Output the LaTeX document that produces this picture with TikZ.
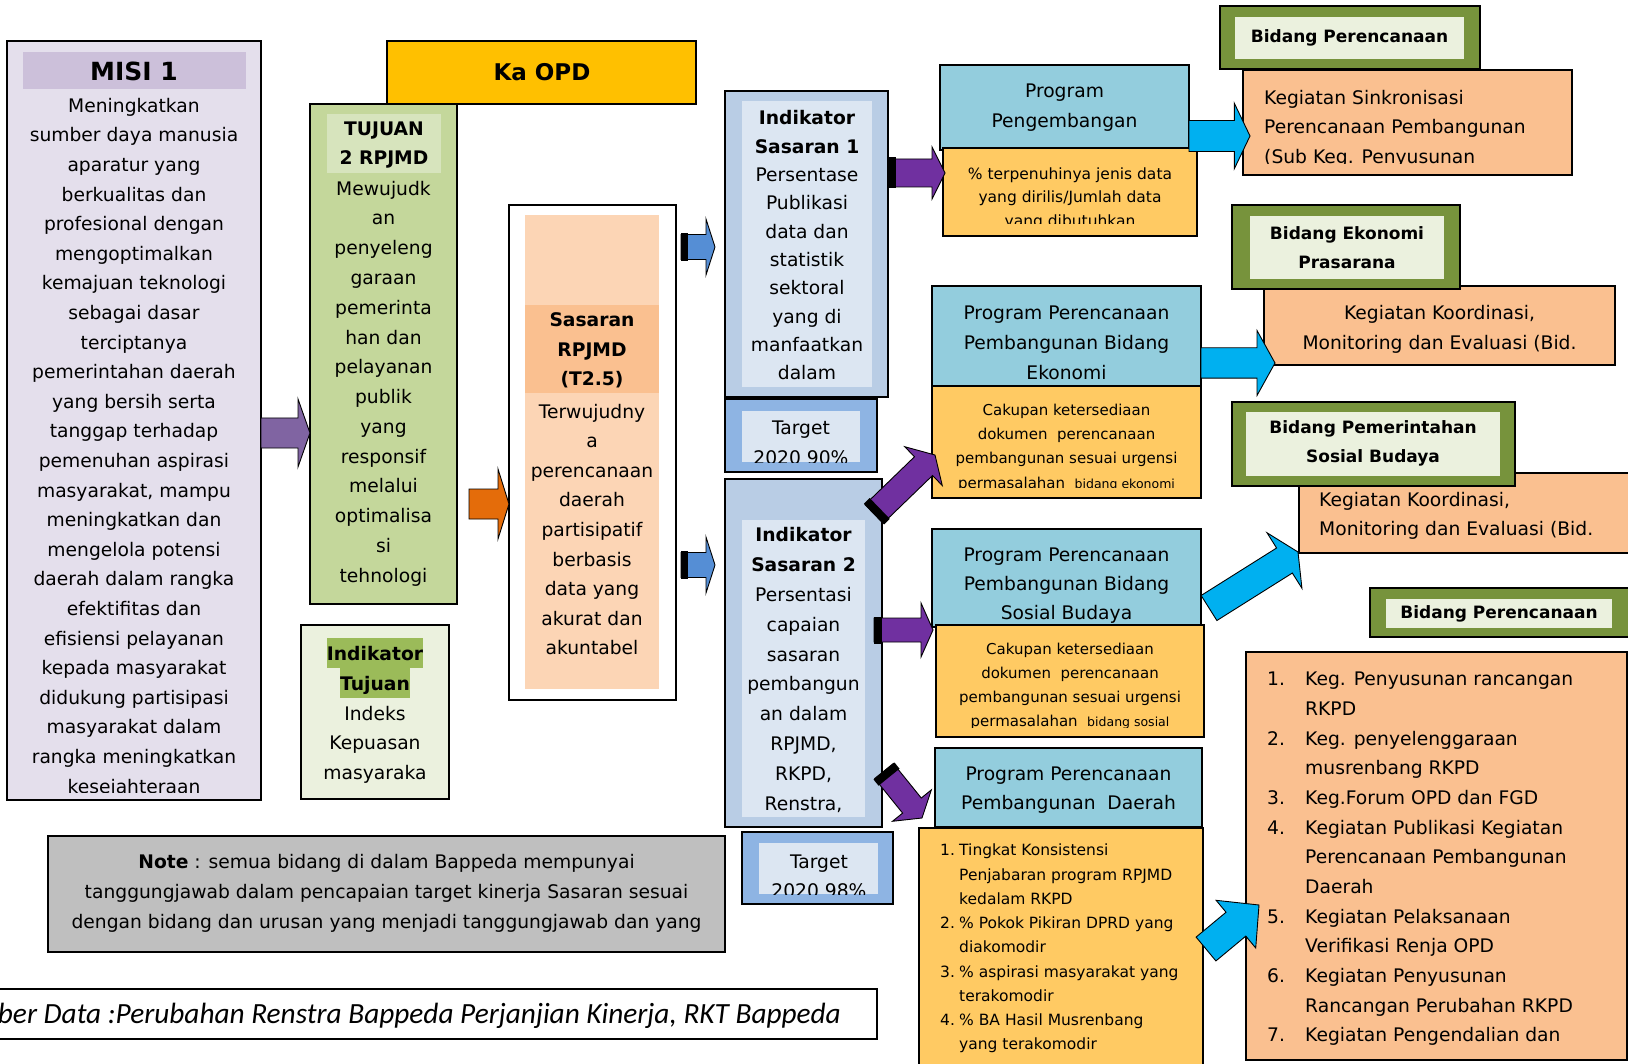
\documentclass[tikz,border=0pt]{standalone}
\usepackage{fontspec}
\setmainfont{DejaVu Sans}
\newfontfamily\sumberfont{Carlito}
\usetikzlibrary{calc}
\definecolor{misibg}{RGB}{228,223,236}
\definecolor{misihd}{RGB}{204,192,218}
\definecolor{kaopd}{RGB}{255,192,0}
\definecolor{tujuanbg}{RGB}{196,215,155}
\definecolor{tujuanhd}{RGB}{215,228,189}
\definecolor{palegreen}{RGB}{235,241,222}
\definecolor{hlgreen}{RGB}{155,187,89}
\definecolor{peach}{RGB}{252,213,181}
\definecolor{salmon}{RGB}{250,192,144}
\definecolor{steel}{RGB}{185,205,229}
\definecolor{paleblue}{RGB}{220,230,242}
\definecolor{midblue}{RGB}{142,180,227}
\definecolor{aqua}{RGB}{147,205,221}
\definecolor{gold}{RGB}{255,202,99}
\definecolor{olive}{RGB}{119,147,60}
\definecolor{notegray}{RGB}{191,191,191}
\definecolor{misiarrow}{RGB}{128,100,162}
\definecolor{orangearrow}{RGB}{228,108,10}
\definecolor{bluearrow}{RGB}{85,142,213}
\definecolor{violetarrow}{RGB}{112,48,160}
\definecolor{cyanarrow}{RGB}{0,176,240}

\tikzset{ba shaft/.store in=\bashaft, ba head/.store in=\bahead,
  ba neck/.store in=\baneck, ba band/.store in=\baband,
  ba shaft=15pt, ba head=32pt, ba neck=16pt, ba band=0pt}

% block arrow from #2 (tail centre) to #3 (tip)
\newcommand{\blockarrow}[3][]{%
  \begin{scope}[draw=black, line width=0.9pt, #1]
    \coordinate (neck) at ($(#3)!\baneck!(#2)$);
    \filldraw ($(#2)!\bashaft!90:(#3)$) -- ($(neck)!\bashaft!-90:(#2)$)
      -- ($(neck)!\bahead!-90:(#2)$) -- (#3) -- ($(neck)!\bahead!90:(#2)$)
      -- ($(neck)!\bashaft!90:(#2)$) -- ($(#2)!\bashaft!-90:(#3)$) -- cycle;
    \ifdim\baband>0pt
      \coordinate (band) at ($(#2)!\baband!(#3)$);
      \fill[black] ($(#2)!\bashaft+1.5pt!90:(#3)$) -- ($(band)!\bashaft+1.5pt!-90:(#2)$)
        -- ($(band)!\bashaft+1.5pt!90:(#2)$) -- ($(#2)!\bashaft+1.5pt!-90:(#3)$) -- cycle;
    \fi
  \end{scope}}

% box from (x1,y1) to (x2,y2)
\newcommand{\panel}[6][]{%
  \node[panel,#1,minimum width={(#5)-(#3)},minimum height={(#6)-(#4)}] (#2)
    at ({((#3)+(#5))/2},{((#4)+(#6))/2}) {};}

\newcommand{\hlg}[1]{{\setlength{\fboxsep}{0pt}\colorbox{hlgreen}{\rule[-7.2pt]{0pt}{29.4pt}#1}}}

\begin{document}
\begin{tikzpicture}[x=1pt,y=-1pt,
  panel/.style={draw=black,line width=1.6pt,inner sep=0pt,outer sep=0pt},
  inlay/.style={draw=none},
  bidang/.style={fill=olive,line width=1.2pt},
  txt/.style={align=center,inner sep=0pt,font=\fontsize{18.7}{29.6}\selectfont},
  smalltxt/.style={align=center,inner sep=0pt,font=\fontsize{15.5}{24.2}\selectfont},
  headtxt/.style={align=center,inner sep=0pt,font=\bfseries\fontsize{17}{29.5}\selectfont}]
\useasboundingbox (0,0) rectangle (1628,1064);
\clip (0,0) rectangle (1628,1064);

% misi
\panel[fill=misibg]{misi}{7}{41}{261}{800}
\panel[inlay,fill=misihd]{misihead}{23}{52}{246}{89}
\node[txt,font=\bfseries\fontsize{25}{30}\selectfont] (misi-title) at (134,71) {MISI 1};
\begin{scope}
  \clip ($(misi.north west)+(2,2)$) rectangle ($(misi.south east)+(-2,-8)$);
  \node[txt] (misi-text) at (134,447.5) {Meningkatkan\\sumber daya manusia\\aparatur yang\\berkualitas dan\\profesional dengan\\mengoptimalkan\\kemajuan teknologi\\sebagai dasar\\terciptanya\\pemerintahan daerah\\yang bersih serta\\tanggap terhadap\\pemenuhan aspirasi\\masyarakat, mampu\\meningkatkan dan\\mengelola potensi\\daerah dalam rangka\\efektifitas dan\\efisiensi pelayanan\\kepada masyarakat\\didukung partisipasi\\masyarakat dalam\\rangka meningkatkan\\kesejahteraan};
\end{scope}

% ka opd and tujuan
\panel[fill=kaopd]{kaopd}{387}{41}{696}{104}
\node[txt,font=\bfseries\fontsize{23}{28}\selectfont] (kaopd-text) at (542,72) {Ka OPD};
\panel[fill=tujuanbg]{tujuan}{310}{104}{457}{604}
\panel[inlay,fill=tujuanhd]{tujuanhead}{327}{114}{441}{173}
\node[txt] (tujuan-head) at (384,145) {\textbf{TUJUAN}\\\textbf{2 RPJMD}};
\node[txt,font=\fontsize{18.7}{29.77}\selectfont] (tujuan-text) at (383.5,383.5) {Mewujudk\\an\\penyeleng\\garaan\\pemerinta\\han dan\\pelayanan\\publik\\yang\\responsif\\melalui\\optimalisa\\si\\tehnologi};
\panel[fill=palegreen]{indtujuan}{301}{625}{449}{799}
\node[txt,font=\fontsize{18.7}{29.75}\selectfont] (indtujuan-text) at (375,711) {\hlg{\textbf{Indikator}}\\\hlg{\textbf{Tujuan}}\\Indeks\\Kepuasan\\masyaraka};

% sasaran
\panel[fill=white]{sasaran}{509}{205}{676}{700}
\panel[inlay,fill=peach]{sasaranin}{525}{215}{659}{689}
\panel[inlay,fill=salmon]{sasaranhead}{525}{305}{659}{393}
\node[txt,font=\bfseries\fontsize{18.7}{29.5}\selectfont] (sasaran-head) at (592,350.5) {Sasaran\\RPJMD\\(T2.5)};
\node[txt] (sasaran-text) at (592,529.5) {Terwujudny\\a\\perencanaan\\daerah\\partisipatif\\berbasis\\data yang\\akurat dan\\akuntabel};

% indikator sasaran
\panel[fill=steel]{ind1}{725}{91}{888}{397}
\panel[inlay,fill=paleblue]{ind1in}{742}{101}{872}{387}
\node[txt,font=\fontsize{18.7}{28.33}\selectfont] (ind1-text) at (807,245.5) {\textbf{Indikator}\\\textbf{Sasaran 1}\\Persentase\\Publikasi\\data dan\\statistik\\sektoral\\yang di\\manfaatkan\\dalam};
\panel[fill=midblue]{target1}{725}{399}{877}{472}
\panel[inlay,fill=paleblue]{target1in}{742}{411}{860}{462}
\begin{scope}
  \clip (target1in.north west) rectangle (target1in.south east);
  \node[txt,font=\fontsize{18.7}{30}\selectfont] (target1-text) at (801,443) {Target\\2020 90\%};
\end{scope}
\panel[fill=steel]{ind2}{725}{479}{882}{827}
\panel[inlay,fill=paleblue]{ind2in}{742}{520}{865}{817}
\node[txt,font=\fontsize{18.7}{29.8}\selectfont] (ind2-text) at (803.5,670) {\textbf{Indikator}\\\textbf{Sasaran 2}\\Persentasi\\capaian\\sasaran\\pembangun\\an dalam\\RPJMD,\\RKPD,\\Renstra,};
\panel[fill=midblue]{target2}{742}{832}{893}{904}
\panel[inlay,fill=paleblue]{target2in}{759}{843}{878}{894}
\begin{scope}
  \clip (target2in.north west) rectangle (target2in.south east);
  \node[txt,font=\fontsize{18.7}{29}\selectfont] (target2-text) at (819,876.5) {Target\\2020 98\%};
\end{scope}

% program pengembangan
\panel[fill=aqua]{progdata}{940}{65}{1189}{150}
\node[txt,font=\fontsize{18.7}{30}\selectfont] (progdata-text) at (1064.5,108) {Program\\Pengembangan};
\panel[fill=gold]{pctdata}{943}{148}{1197}{236}
\begin{scope}
  \clip (pctdata.north west) rectangle ($(pctdata.south east)+(0,-12)$);
  \node[smalltxt,font=\fontsize{15.5}{23.5}\selectfont] (pctdata-text) at (1070,198.5) {\% terpenuhinya jenis data\\yang dirilis/Jumlah data\\yang dibutuhkan};
\end{scope}
\panel[bidang]{bidrenc}{1220}{6}{1480}{69}
\panel[inlay,fill=palegreen]{bidrencin}{1235}{17}{1464}{59}
\node[headtxt] (bidrenc-text) at (bidrencin.center) {Bidang Perencanaan};
\panel[fill=salmon]{sinkron}{1243}{70}{1572}{175}
\begin{scope}
  \clip (sinkron.north west) rectangle ($(sinkron.south east)+(0,-11)$);
  \node[txt,align=left,anchor=west] (sinkron-text) at (1264,128.5) {Kegiatan Sinkronisasi\\Perencanaan Pembangunan\\(Sub Keg. Penyusunan};
\end{scope}

% bidang ekonomi
\panel[fill=salmon]{koord1}{1264}{286}{1615}{365}
\node[txt,font=\fontsize{18.7}{30}\selectfont] (koord1-text) at (1439.5,329) {Kegiatan Koordinasi,\\Monitoring dan Evaluasi (Bid.};
\panel[bidang]{bideko}{1232}{205}{1460}{289}
\panel[inlay,fill=palegreen]{bidekoin}{1250}{216}{1444}{279}
\node[headtxt] (bideko-text) at (1347,247.5) {Bidang Ekonomi\\Prasarana};
\panel[fill=aqua]{progeko}{932}{286}{1201}{386}
\node[txt,font=\fontsize{18.7}{30}\selectfont] (progeko-text) at (1066.5,343) {Program Perencanaan\\Pembangunan Bidang\\Ekonomi};
\panel[fill=gold]{cakeko}{932}{386}{1201}{498}
\begin{scope}
  \clip (cakeko.north west) rectangle ($(cakeko.south east)+(0,-11)$);
  \node[smalltxt,font=\fontsize{15}{24.3}\selectfont] (cakeko-text) at (1066.5,447.5) {Cakupan ketersediaan\\dokumen~ perencanaan\\pembangunan sesuai urgensi\\permasalahan~ {\fontsize{12.5}{24.3}\selectfont bidang ekonomi}};
\end{scope}

% bidang pemerintahan sosial budaya
\panel[fill=salmon]{koord2}{1299}{473}{1640}{553}
\node[txt,align=left,anchor=west,font=\fontsize{18.7}{29}\selectfont] (koord2-text) at (1319,515.5) {Kegiatan Koordinasi,\\Monitoring dan Evaluasi (Bid.};
\panel[bidang]{bidpem}{1232}{402}{1515}{486}
\panel[inlay,fill=palegreen]{bidpemin}{1246}{412}{1500}{476}
\node[headtxt] (bidpem-text) at (1373,443.5) {Bidang Pemerintahan\\Sosial Budaya};
\panel[fill=aqua]{progsos}{932}{529}{1201}{627}
\node[txt,font=\fontsize{18.7}{29}\selectfont] (progsos-text) at (1066.5,586) {Program Perencanaan\\Pembangunan Bidang\\Sosial Budaya};
\panel[fill=gold]{caksos}{936}{625}{1204}{737}
\begin{scope}
  \clip (caksos.north west) rectangle ($(caksos.south east)+(0,-10)$);
  \node[smalltxt,font=\fontsize{15}{24}\selectfont] (caksos-text) at (1070,686) {Cakupan ketersediaan\\dokumen~ perencanaan\\pembangunan sesuai urgensi\\permasalahan~ {\fontsize{12.5}{24}\selectfont bidang sosial}};
\end{scope}

% bidang perencanaan
\panel[bidang]{bidrenc2}{1370}{588}{1640}{637}
\panel[inlay,fill=palegreen]{bidrenc2in}{1386}{599}{1612}{628}
\node[headtxt] (bidrenc2-text) at (bidrenc2in.center) {Bidang Perencanaan};
\panel[fill=salmon]{listrkpd}{1246}{652}{1627}{1060}
\node[anchor=west,inner sep=0pt,font=\fontsize{18.7}{29.67}\selectfont] (listrkpd-text) at (1267,858) {%
  \begin{tabular}{@{}p{38pt}@{}l@{}}
  1. & Keg. Penyusunan rancangan\\
     & RKPD\\
  2. & Keg. penyelenggaraan\\
     & musrenbang RKPD\\
  3. & Keg.Forum OPD dan FGD\\
  4. & Kegiatan Publikasi Kegiatan\\
     & Perencanaan Pembangunan\\
     & Daerah\\
  5. & Kegiatan Pelaksanaan\\
     & Verifikasi Renja OPD\\
  6. & Kegiatan Penyusunan\\
     & Rancangan Perubahan RKPD\\
  7. & Kegiatan Pengendalian dan
  \end{tabular}};

% program pembangunan daerah
\panel[fill=aqua]{progdaerah}{935}{748}{1202}{827}
\node[txt,font=\fontsize{18.7}{29}\selectfont] (progdaerah-text) at (1068.5,790.5) {Program Perencanaan\\Pembangunan~ Daerah};
\panel[fill=gold]{listdaerah}{919}{828}{1203}{1075}
\node[anchor=west,inner sep=0pt,font=\fontsize{15.5}{24.25}\selectfont] (listdaerah-text) at (940,948) {%
  \begin{tabular}{@{}p{19pt}@{}l@{}}
  1. & Tingkat Konsistensi\\
     & Penjabaran program RPJMD\\
     & kedalam RKPD\\
  2. & \% Pokok Pikiran DPRD yang\\
     & diakomodir\\
  3. & \% aspirasi masyarakat yang\\
     & terakomodir\\
  4. & \% BA Hasil Musrenbang\\
     & yang terakomodir
  \end{tabular}};

% note and source
\panel[fill=notegray]{note}{48}{836}{725}{952}
\node[txt,font=\fontsize{18.7}{30}\selectfont] (note-text) at (386.5,893) {\textbf{Note} : semua bidang di dalam Bappeda mempunyai\\tanggungjawab dalam pencapaian target kinerja Sasaran sesuai\\dengan bidang dan urusan yang menjadi tanggungjawab dan yang};
\panel[fill=white,line width=1.2pt]{sumber}{-10}{989}{877}{1039}
\node[anchor=east,inner sep=0pt,font=\sumberfont\itshape\fontsize{29.3}{32}\selectfont] (sumber-text) at (841,1016) {ber Data :Perubahan Renstra Bappeda Perjanjian Kinerja, RKT Bappeda};

% arrows
\coordinate (a1s) at (misi.east |- 0,433);
\coordinate (a1e) at (tujuan.west |- 0,433);
\blockarrow[fill=misiarrow,ba shaft=15pt,ba head=34pt,ba neck=12pt]{a1s}{a1e}
\coordinate (a2s) at ($(tujuan.east |- 0,504)+(12,0)$);
\coordinate (a2e) at (sasaran.west |- 0,504);
\blockarrow[fill=orangearrow,ba shaft=15pt,ba head=35pt,ba neck=11pt]{a2s}{a2e}
\coordinate (a3s) at ($(sasaran.east |- 0,247)+(5,0)$);
\coordinate (a3e) at ($(ind1.west |- 0,247)+(-10,0)$);
\blockarrow[fill=bluearrow,ba shaft=12.5pt,ba head=28pt,ba neck=9pt,ba band=7pt]{a3s}{a3e}
\coordinate (a4s) at ($(sasaran.east |- 0,565)+(5,0)$);
\coordinate (a4e) at ($(ind2.west |- 0,565)+(-10,0)$);
\blockarrow[fill=bluearrow,ba shaft=12.5pt,ba head=28pt,ba neck=9pt,ba band=7pt]{a4s}{a4e}
\coordinate (a5s) at (ind1.east |- 0,173);
\coordinate (a5e) at ($(pctdata.west |- 0,173)+(2,0)$);
\blockarrow[fill=violetarrow,ba shaft=14pt,ba head=26pt,ba neck=13pt,ba band=8pt]{a5s}{a5e}
\coordinate (a6s) at ($(ind2.north east)+(-8,35)$);
\coordinate (a6e) at ($(cakeko.north west)+(3,69)$);
\blockarrow[fill=violetarrow,ba shaft=13pt,ba head=27pt,ba neck=16pt,ba band=8pt]{a6s}{a6e}
\coordinate (a7s) at ($(ind2.east |- 0,630)+(-8,0)$);
\coordinate (a7e) at ($(progsos.west |- 0,630)+(1,0)$);
\blockarrow[fill=violetarrow,ba shaft=12pt,ba head=27pt,ba neck=12pt,ba band=8pt]{a7s}{a7e}
\coordinate (a8s) at ($(ind2.east |- 0,771)+(2,0)$);
\coordinate (a8e) at ($(progdaerah.west |- 0,818)+(-13,0)$);
\blockarrow[fill=violetarrow,ba shaft=12pt,ba head=25pt,ba neck=16pt,ba band=8pt]{a8s}{a8e}
\coordinate (a9s) at (progdata.east |- 0,136);
\coordinate (a9e) at ($(sinkron.west |- 0,136)+(7,0)$);
\blockarrow[fill=cyanarrow,ba shaft=15.5pt,ba head=32.8pt,ba neck=15.7pt]{a9s}{a9e}
\coordinate (a10s) at (progeko.east |- 0,363);
\coordinate (a10e) at ($(koord1.west |- 0,363)+(11,0)$);
\blockarrow[fill=cyanarrow,ba shaft=15.2pt,ba head=32.5pt,ba neck=18pt]{a10s}{a10e}
\coordinate (a11s) at ($(progsos.east |- 0,608)+(8,0)$);
\coordinate (a11e) at ($(koord2.south west)+(-1,-1)$);
\blockarrow[fill=cyanarrow,ba shaft=14.8pt,ba head=32.8pt,ba neck=16pt]{a11s}{a11e}
\coordinate (a12s) at ($(listdaerah.east |- 0,949)+(3,0)$);
\coordinate (a12e) at ($(listrkpd.west |- 0,905)+(13,0)$);
\blockarrow[fill=cyanarrow,ba shaft=15.5pt,ba head=31pt,ba neck=30pt]{a12s}{a12e}
\end{tikzpicture}
\end{document}
